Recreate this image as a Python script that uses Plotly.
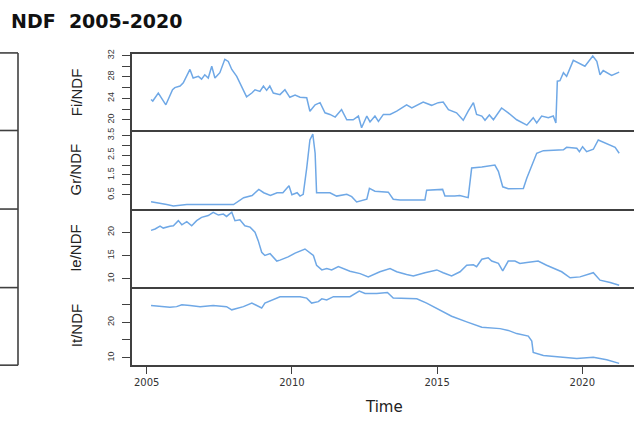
import plotly.graph_objects as go

W, H = 634, 421

# ---------------- data (decimal years / values) ----------------
fi_t = [2005.15, 2005.21, 2005.40, 2005.66, 2005.89, 2005.97, 2006.15, 2006.26, 2006.49, 2006.60,
        2006.78, 2006.89, 2007.00, 2007.12, 2007.24, 2007.35, 2007.52, 2007.69, 2007.81, 2007.93,
        2008.10, 2008.27, 2008.44, 2008.62, 2008.73, 2008.90, 2009.02, 2009.13, 2009.24, 2009.36,
        2009.59, 2009.76, 2009.93, 2010.11, 2010.28, 2010.51, 2010.62, 2010.80, 2010.97, 2011.14,
        2011.31, 2011.49, 2011.71, 2011.89, 2012.11, 2012.29, 2012.40, 2012.58, 2012.69, 2012.86,
        2012.98, 2013.15, 2013.38, 2013.61, 2013.95, 2014.13, 2014.52, 2014.81, 2015.04, 2015.21,
        2015.39, 2015.67, 2015.90, 2016.07, 2016.25, 2016.36, 2016.54, 2016.65, 2016.80, 2016.94,
        2017.22, 2017.45, 2017.74, 2018.09, 2018.31, 2018.43, 2018.60, 2018.83, 2019.00, 2019.09,
        2019.14, 2019.23, 2019.35, 2019.46, 2019.69, 2020.09, 2020.36, 2020.50, 2020.61, 2020.72,
        2021.01, 2021.27]
fi_v = [23.8, 23.5, 25.0, 22.8, 25.6, 26.0, 26.3, 26.9, 29.4, 27.8,
        28.1, 27.6, 28.4, 27.8, 30.0, 27.8, 28.8, 31.3, 30.9, 29.4,
        28.1, 26.3, 24.3, 25.0, 25.6, 25.3, 26.3, 25.5, 26.3, 25.0,
        24.7, 25.6, 24.2, 24.6, 24.2, 24.1, 21.6, 22.8, 23.2, 21.3,
        21.0, 20.5, 21.9, 20.0, 20.0, 20.7, 18.5, 20.7, 19.6, 20.7,
        19.7, 21.0, 21.0, 21.6, 22.8, 22.2, 23.3, 22.7, 23.2, 23.3,
        21.9, 21.3, 19.9, 21.6, 23.2, 21.0, 20.7, 19.9, 20.9, 20.0,
        22.2, 21.3, 20.0, 19.0, 20.4, 19.4, 20.7, 20.4, 20.7, 19.4,
        27.2, 27.3, 28.8, 28.1, 31.1, 30.0, 31.9, 30.9, 28.4, 29.2,
        28.3, 28.9]

gr_t = [2005.15, 2005.35, 2005.69, 2005.92, 2006.38, 2007.30, 2007.99, 2008.34, 2008.63, 2008.86,
        2009.03, 2009.26, 2009.49, 2009.69, 2009.90, 2010.00, 2010.18, 2010.28, 2010.39, 2010.51,
        2010.62, 2010.72, 2010.80, 2010.85, 2011.31, 2011.54, 2011.89, 2012.06, 2012.23, 2012.58,
        2012.67, 2012.86, 2013.32, 2013.49, 2013.72, 2014.58, 2014.64, 2015.19, 2015.27, 2015.61,
        2015.78, 2016.07, 2016.19, 2016.54, 2016.99, 2017.11, 2017.26, 2017.45, 2017.97, 2018.09,
        2018.20, 2018.43, 2018.66, 2019.35, 2019.46, 2019.81, 2019.90, 2020.01, 2020.15, 2020.38,
        2020.55, 2020.84, 2021.13, 2021.27]
gr_v = [0.14, 0.10, 0.00, -0.07, 0.00, 0.00, 0.00, 0.35, 0.46, 0.77,
        0.60, 0.46, 0.60, 0.60, 0.95, 0.50, 0.60, 0.43, 0.52, 1.85,
        3.27, 3.57, 2.60, 0.60, 0.60, 0.43, 0.52, 0.40, 0.13, 0.27,
        0.82, 0.68, 0.63, 0.27, 0.23, 0.23, 0.73, 0.77, 0.43, 0.43,
        0.46, 0.35, 1.85, 1.90, 2.00, 1.68, 0.90, 0.80, 0.82, 1.35,
        1.77, 2.60, 2.73, 2.77, 2.90, 2.85, 2.68, 2.93, 2.68, 2.80,
        3.27, 3.07, 2.90, 2.60]

ie_t = [2005.15, 2005.29, 2005.46, 2005.57, 2005.80, 2005.92, 2006.09, 2006.21, 2006.38, 2006.55,
        2006.72, 2006.89, 2007.12, 2007.29, 2007.47, 2007.64, 2007.75, 2007.93, 2008.04, 2008.21,
        2008.38, 2008.56, 2008.73, 2008.84, 2008.96, 2009.07, 2009.25, 2009.48, 2009.59, 2009.87,
        2010.11, 2010.28, 2010.45, 2010.74, 2010.85, 2011.03, 2011.20, 2011.37, 2011.60, 2012.00,
        2012.35, 2012.63, 2013.03, 2013.38, 2013.61, 2013.95, 2014.18, 2014.58, 2014.99, 2015.21,
        2015.50, 2015.79, 2016.02, 2016.25, 2016.36, 2016.54, 2016.76, 2016.88, 2017.11, 2017.26,
        2017.45, 2017.68, 2017.85, 2018.09, 2018.48, 2018.77, 2019.12, 2019.29, 2019.58, 2019.92,
        2020.38, 2020.61, 2020.96, 2021.27]
ie_v = [20.4, 20.7, 21.3, 20.9, 21.3, 21.4, 22.5, 21.6, 22.3, 21.4,
        22.5, 23.2, 23.6, 24.3, 23.7, 23.9, 23.4, 24.3, 22.5, 22.7,
        21.4, 21.1, 20.0, 18.2, 15.7, 15.0, 15.4, 13.8, 14.0, 14.7,
        15.5, 15.9, 16.4, 15.0, 12.9, 11.9, 12.2, 11.9, 12.6, 11.6,
        11.1, 10.4, 11.5, 12.2, 11.5, 10.9, 10.6, 11.3, 11.9, 11.3,
        10.6, 11.5, 12.9, 13.0, 12.6, 14.2, 14.5, 13.8, 13.3, 11.7,
        13.8, 13.8, 13.3, 13.5, 13.8, 12.9, 11.9, 11.5, 10.2, 10.4,
        11.3, 9.7, 9.2, 8.6]

it_t = [2005.15, 2005.46, 2005.80, 2006.03, 2006.21, 2006.49, 2006.84, 2007.29, 2007.75, 2007.93,
        2008.10, 2008.33, 2008.62, 2008.79, 2008.96, 2009.07, 2009.36, 2009.59, 2010.28, 2010.51,
        2010.68, 2010.91, 2011.03, 2011.20, 2011.43, 2012.00, 2012.32, 2012.52, 2012.92, 2013.29,
        2013.49, 2014.30, 2014.64, 2015.10, 2015.50, 2016.02, 2016.54, 2017.17, 2017.45, 2017.74,
        2018.14, 2018.26, 2018.31, 2018.66, 2019.23, 2019.81, 2020.38, 2020.84, 2021.27]
it_v = [24.7, 24.4, 24.2, 24.4, 24.9, 24.7, 24.4, 24.7, 24.4, 23.5,
        23.8, 24.4, 25.4, 24.7, 24.0, 25.4, 26.3, 27.2, 27.2, 26.8,
        25.4, 25.8, 26.6, 26.3, 27.2, 27.2, 28.8, 28.1, 28.1, 28.4,
        26.8, 26.6, 25.4, 23.5, 21.7, 20.1, 18.6, 18.2, 17.7, 16.8,
        16.1, 14.7, 11.5, 10.6, 10.1, 9.8, 10.1, 9.4, 8.4]

for a, b in [(fi_t, fi_v), (gr_t, gr_v), (ie_t, ie_v), (it_t, it_v)]:
    assert len(a) == len(b), (len(a), len(b))

x_ticks = [2005, 2010, 2015, 2020]
x_range = [2004.477, 2021.78]

fi_ticks = [20, 22, 24, 26, 28, 30, 32]
fi_text = ["20", "", "24", "", "28", "", "32"]
gr_ticks = [0.5, 1.0, 1.5, 2.0, 2.5, 3.0, 3.5]
gr_text = ["0.5", "", "1.5", "", "2.5", "", "3.5"]
ie_ticks = [10, 15, 20]
ie_text = ["10", "15", "20"]
it_ticks = [10, 15, 20, 25]
it_text = ["10", "", "20", ""]

# ---------------- layout helpers ----------------
def px(x):
    return x / W

def py(y):
    return 1 - y / H

LINE = "#404040"
BLUE = "#6fa8e6"
TICKFONT = dict(family="Liberation Sans, Arial, sans-serif", size=9, color="#333")

panels = [
    ("Fi/NDF", fi_t, fi_v, 49.5, 127.0, [18.0, 32.3], fi_ticks, fi_text),
    ("Gr/NDF", gr_t, gr_v, 127.0, 206.0, [-0.2, 3.75], gr_ticks, gr_text),
    ("Ie/NDF", ie_t, ie_v, 206.0, 285.5, [8.2, 25.1], ie_ticks, ie_text),
    ("It/NDF", it_t, it_v, 285.5, 364.5, [7.9, 29.9], it_ticks, it_text),
]

fig = go.Figure()
layout = dict(
    width=W, height=H, margin=dict(l=0, r=0, t=0, b=0),
    paper_bgcolor="white", plot_bgcolor="white", showlegend=False,
    annotations=[], shapes=[],
)

n = len(panels)
for i, (name, t, v, ytop, ybot, yr, tv, tt) in enumerate(panels, start=1):
    xa = "xaxis" if i == 1 else f"xaxis{i}"
    ya = "yaxis" if i == 1 else f"yaxis{i}"
    xs = "x" if i == 1 else f"x{i}"
    ys = "y" if i == 1 else f"y{i}"
    fig.add_trace(go.Scatter(x=t, y=v, mode="lines", xaxis=xs, yaxis=ys,
                             line=dict(color=BLUE, width=1.5), hoverinfo="skip"))
    bottom = (i == n)
    layout[xa] = dict(
        domain=[px(131.5), 1.0], range=x_range, anchor=ys,
        showline=True, mirror=(i == 1), linecolor=LINE, linewidth=1.8,
        showgrid=False, zeroline=False,
        tickmode="array", tickvals=x_ticks if bottom else [],
        ticktext=[str(x) for x in x_ticks] if bottom else [],
        ticks="outside" if bottom else "", ticklen=7, tickcolor=LINE, tickwidth=1.2,
        showticklabels=bottom,
        tickfont=dict(family="DejaVu Sans, sans-serif", size=10, color="#333"),
    )
    if i > 1:
        layout[xa]["matches"] = "x"
    layout[ya] = dict(
        domain=[py(ybot), py(ytop)], range=yr, anchor=xs,
        showline=True, mirror=False, linecolor=LINE, linewidth=1.8,
        showgrid=False, zeroline=False,
        tickmode="array", tickvals=tv, ticktext=tt,
        ticks="outside", ticklen=8, tickcolor=LINE, tickwidth=1.2,
        tickangle=-90, tickfont=TICKFONT, ticklabelstandoff=4,
    )
    layout["annotations"].append(dict(
        text=name, xref="paper", yref="paper", x=px(76), y=py((ytop + ybot) / 2),
        xanchor="center", yanchor="middle", showarrow=False, textangle=-90,
        font=dict(family="Liberation Sans, Arial, sans-serif", size=15, color="#222"),
    ))

# x axis title
layout["annotations"].append(dict(
    text="Time", xref="paper", yref="paper", x=px(384), y=py(407),
    xanchor="center", yanchor="middle", showarrow=False,
    font=dict(family="DejaVu Sans, sans-serif", size=15, color="#222"),
))
# main title
layout["annotations"].append(dict(
    text="<b>NDF\u00a0 2005-2020</b>", xref="paper", yref="paper", x=px(9), y=py(16),
    xanchor="left", yanchor="middle", showarrow=False,
    font=dict(family="DejaVu Sans, sans-serif", size=19, color="#111"),
))

# partial neighbouring panel box at the left edge (cropped)
lx = px(18)
layout["shapes"].append(dict(type="line", xref="paper", yref="paper",
                             x0=lx, x1=lx, y0=py(364.5), y1=py(48.5),
                             line=dict(color=LINE, width=1.6)))
for yy in [48.5, 127.0, 206.5, 286.0, 364.5]:
    layout["shapes"].append(dict(type="line", xref="paper", yref="paper",
                                 x0=0, x1=lx, y0=py(yy), y1=py(yy),
                                 line=dict(color=LINE, width=1.6)))

fig.update_layout(**layout)
fig.write_html("out.html", config={"displayModeBar": False},
               post_script="document.body.style.margin='0';document.body.style.overflow='hidden';")
